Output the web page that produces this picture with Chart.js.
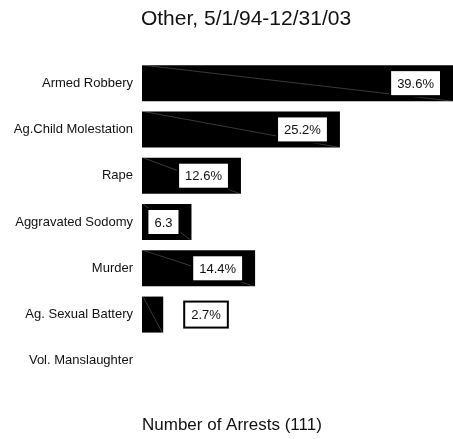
<!DOCTYPE html>
<html>
<head>
<meta charset="utf-8">
<script src="https://cdn.jsdelivr.net/npm/chart.js@4.4.1/dist/chart.umd.min.js"></script>
<style>
  html, body { margin: 0; padding: 0; background: #ffffff; }
  #wrap { width: 453px; height: 439px; }
</style>
</head>
<body>
<div id="wrap"><canvas id="c" width="453" height="439"></canvas></div>
<script>
const categories = ['Armed Robbery', 'Ag.Child Molestation', 'Rape', 'Aggravated Sodomy', 'Murder', 'Ag. Sexual Battery', 'Vol. Manslaughter'];
const percentValues = [39.6, 25.2, 12.6, 6.3, 14.4, 2.7, 0];
const valueLabels = ['39.6%', '25.2%', '12.6%', '6.3', '14.4%', '2.7%', ''];
const chartTitle = 'Other, 5/1/94-12/31/03';
const axisTitle = 'Number of Arrests (111)';

const FONT = '"Liberation Sans", Arial, Helvetica, sans-serif';

const boxLabels = {
  id: 'boxLabels',
  afterLayout(chart) {
    // shift the title's box so it is centred like the original
    const t = chart.titleBlock;
    if (t) { t.left = 39; t.width = t.right - t.left; }
  },
  afterDatasetsDraw(chart) {
    const ctx = chart.ctx;
    const meta = chart.getDatasetMeta(0);
    ctx.save();
    ctx.font = '13px ' + FONT;
    meta.data.forEach((bar, i) => {
      const txt = valueLabels[i];
      const p = bar.getProps(['x', 'y', 'base', 'height'], true);
      const left = Math.min(p.x, p.base), right = Math.max(p.x, p.base);
      const top = p.y - p.height / 2, bottom = p.y + p.height / 2;
      if (right - left > 0.5) {
        ctx.beginPath();
        ctx.strokeStyle = 'rgba(150,150,150,0.75)';
        ctx.lineWidth = 0.5;
        ctx.moveTo(left + 1, top);
        ctx.lineTo(right - 1, bottom);
        ctx.stroke();
      }
      if (!txt) return;
      const tw = ctx.measureText(txt).width;
      const w = tw + 14, h = 26;
      let bx;
      if (right - left - 14 >= w) bx = right - 12 - w;
      else bx = right + 21;
      const by = p.y - h / 2;
      ctx.fillStyle = '#ffffff';
      ctx.strokeStyle = '#000000';
      ctx.lineWidth = 2;
      ctx.fillRect(bx, by, w, h);
      ctx.strokeRect(bx, by, w, h);
      ctx.fillStyle = '#111111';
      ctx.textAlign = 'center';
      ctx.textBaseline = 'middle';
      ctx.fillText(txt, bx + w / 2, p.y + 1);
    });
    ctx.restore();
  }
};

new Chart(document.getElementById('c'), {
  type: 'bar',
  data: {
    labels: categories,
    datasets: [{
      data: percentValues,
      backgroundColor: '#000000',
      borderWidth: 0,
      categoryPercentage: 1.0,
      barPercentage: 0.778
    }]
  },
  options: {
    indexAxis: 'y',
    responsive: false,
    animation: false,
    layout: { padding: { left: 0, right: 0, top: 0, bottom: 0 } },
    plugins: {
      legend: { display: false },
      tooltip: { enabled: false },
      title: {
        display: true,
        text: chartTitle,
        color: '#111111',
        font: { family: FONT, size: 21, weight: 'normal', lineHeight: 1.2 },
        padding: { top: 7, bottom: 27.8 }
      }
    },
    scales: {
      x: {
        min: 0,
        max: Math.max(...percentValues),
        grid: { display: false, drawTicks: false },
        border: { display: false },
        ticks: { display: false },
        title: {
          display: true,
          text: axisTitle,
          align: 'start',
          color: '#111111',
          font: { family: FONT, size: 17, weight: 'normal', lineHeight: 1.2 },
          padding: { top: 31.6, bottom: 3 }
        }
      },
      y: {
        grid: { display: false, drawTicks: false },
        border: { display: false },
        ticks: {
          color: '#111111',
          padding: 9,
          font: { family: FONT, size: 13 }
        },
        afterFit(scale) { scale.width = 142; }
      }
    }
  },
  plugins: [boxLabels]
});
</script>
</body>
</html>
